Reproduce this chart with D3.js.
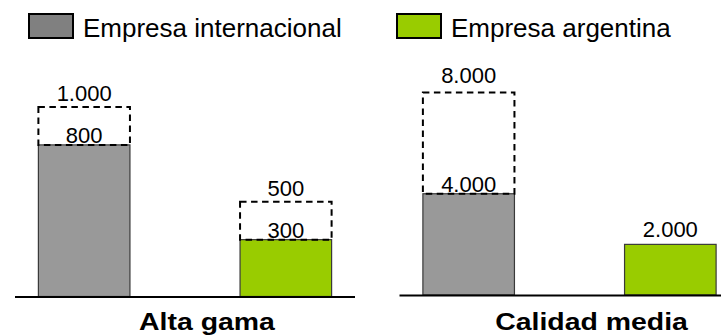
<!DOCTYPE html>
<html>
<head>
<meta charset="utf-8">
<script src="https://cdn.jsdelivr.net/npm/d3@7"></script>
<style>
  html, body { margin: 0; padding: 0; background: #fff; }
  svg { display: block; font-family: "Liberation Sans", Arial, sans-serif; }
</style>
</head>
<body>
<svg id="chart" width="721" height="336"></svg>
<script>
// Market segments and the two companies compared in each
const categories = ["Alta gama", "Calidad media"];
const series = ["Empresa internacional", "Empresa argentina"];
// Current volume per segment, one value per company
const actualAlta = [800, 300];
const actualMedia = [4000, 2000];
// Potential volume (dashed outline); null where none is shown
const potentialAlta = [1000, 500];
const potentialMedia = [8000, null];
const colors = ["#999999", "#99CC00"];
const legendColors = ["#808080", "#99CC00"];

const actual = [actualAlta, actualMedia];
const potential = [potentialAlta, potentialMedia];

const svg = d3.select("#chart");
const fmt = d3.formatLocale({ decimal: ",", thousands: ".", grouping: [3], currency: ["$", ""] }).format(",");

// Each segment gets its own panel with an independent vertical scale
const panels = [
  { x0: 15, x1: 355, base: 296.5, top: 107, gap: 6 },
  { x0: 399.5, x1: 739.5, base: 295, top: 92.5, gap: 10 }
];

categories.forEach((cat, ci) => {
  const p = panels[ci];
  const g = svg.append("g");
  const maxVal = d3.max(potential[ci].concat(actual[ci]), d => d == null ? 0 : d);
  const x = d3.scaleBand().domain(series).range([p.x0, p.x1]).paddingInner(0.546).paddingOuter(0.116);
  const y = d3.scaleLinear().domain([0, maxVal]).range([p.base, p.top]);

  const rows = series.map((s, i) => ({ s, i, v: actual[ci][i], pv: potential[ci][i] }));

  g.selectAll("rect.bar").data(rows).join("rect")
    .attr("class", "bar")
    .attr("x", d => x(d.s))
    .attr("y", d => y(d.v))
    .attr("width", x.bandwidth())
    .attr("height", d => y(0) - y(d.v))
    .attr("fill", d => colors[d.i])
    .attr("stroke", "#3a3a3a")
    .attr("stroke-width", 1.2);

  const withPot = rows.filter(d => d.pv != null);
  g.selectAll("rect.pot").data(withPot).join("rect")
    .attr("class", "pot")
    .attr("x", d => x(d.s))
    .attr("y", d => y(d.pv))
    .attr("width", x.bandwidth())
    .attr("height", d => y(d.v) - y(d.pv))
    .attr("fill", "none")
    .attr("stroke", "#000")
    .attr("stroke-width", 2)
    .attr("stroke-dasharray", "6.5,4.5");

  // baseline
  g.append("line")
    .attr("x1", p.x0).attr("x2", Math.min(p.x1, 721))
    .attr("y1", y(0) + 0.5).attr("y2", y(0) + 0.5)
    .attr("stroke", "#000").attr("stroke-width", 2);

  // value labels
  g.selectAll("text.pv").data(withPot).join("text")
    .attr("class", "pv")
    .attr("x", d => x(d.s) + x.bandwidth() / 2)
    .attr("y", d => y(d.pv) - p.gap)
    .attr("text-anchor", "middle")
    .attr("font-size", 22)
    .attr("fill", "#000")
    .text(d => fmt(d.pv));

  g.selectAll("text.av").data(rows).join("text")
    .attr("class", "av")
    .attr("x", d => x(d.s) + x.bandwidth() / 2)
    .attr("y", d => y(d.v) - (d.pv != null ? 1.5 : 7))
    .attr("text-anchor", "middle")
    .attr("font-size", 22)
    .attr("fill", "#000")
    .text(d => fmt(d.v));

  // segment label
  const lbl = g.append("text")
    .attr("x", (p.x0 + p.x1) / 2 + 22)
    .attr("y", 330)
    .attr("text-anchor", "middle")
    .attr("font-size", 24.5)
    .attr("font-weight", "bold")
    .attr("fill", "#000")
    .text(cat);
  const w = lbl.node().getComputedTextLength();
  lbl.attr("textLength", w * 1.16).attr("lengthAdjust", "spacingAndGlyphs");
});

// legend
const legendX = [29, 397];
const legend = svg.append("g");
series.forEach((s, i) => {
  legend.append("rect")
    .attr("x", legendX[i]).attr("y", 14)
    .attr("width", 44).attr("height", 24)
    .attr("fill", legendColors[i])
    .attr("stroke", "#000").attr("stroke-width", 2);
  legend.append("text")
    .attr("x", legendX[i] + 54).attr("y", 37)
    .attr("font-size", 26)
    .attr("fill", "#000")
    .text(s);
});
</script>
</body>
</html>
